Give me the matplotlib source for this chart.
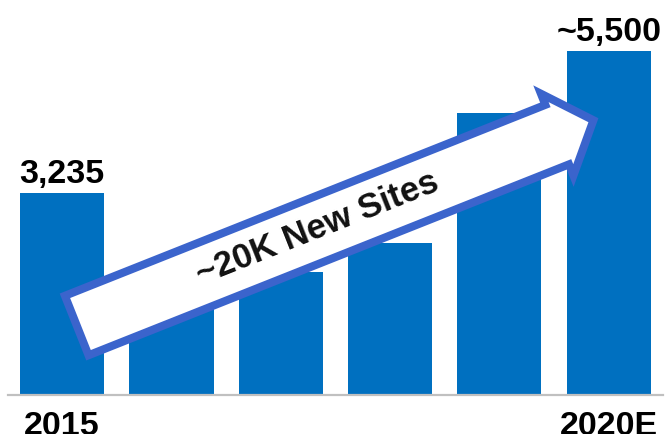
"""Site count growth from 2015 to 2020E, with a callout arrow for new sites."""
import matplotlib.pyplot as plt
import numpy as np
from matplotlib.patches import Polygon

plt.rcParams["font.family"] = ["Liberation Sans", "DejaVu Sans"]

years = ["2015", "2016", "2017", "2018", "2019", "2020E"]
sites = [3235, 1900, 1970, 2430, 4510, 5500]
value_labels = {0: "3,235", 5: "~5,500"}
axis_labels = {0: "2015", 5: "2020E"}
callout = "~20K New Sites"

BAR_BLUE = "#0070C0"
ARROW_BLUE = "#3B64CC"
W, H = 665, 435

fig = plt.figure(figsize=(W / 100, H / 100), dpi=100)
ax = fig.add_axes([7.5 / W, 39 / H, 655.8 / W, 396 / H])

x = np.arange(len(years))
ax.bar(x, sites, width=0.77, color=BAR_BLUE, zorder=2)
ax.set_xlim(-0.5, len(years) - 0.5)
ax.set_ylim(0, 6340)

for side in ("top", "left", "right"):
    ax.spines[side].set_visible(False)
ax.spines["bottom"].set_color("#C0C0C0")
ax.spines["bottom"].set_linewidth(1.6)
ax.set_yticks([])
ax.set_xticks(list(axis_labels), list(axis_labels.values()))
ax.tick_params(axis="x", length=0, pad=11, labelsize=24.5)
for lbl in ax.get_xticklabels():
    lbl.set_fontweight("bold")

for i, txt in value_labels.items():
    ax.annotate(txt, (x[i], sites[i]), xytext=(0, 3), textcoords="offset points",
                ha="center", va="bottom", fontsize=24.5, fontweight="bold")

# callout arrow drawn in pixel space on a transparent overlay
ov = fig.add_axes([0, 0, 1, 1], zorder=5)
ov.set_xlim(0, W)
ov.set_ylim(H, 0)
ov.axis("off")
ov.patch.set_alpha(0)

tail = np.array([73.0, 328.0])
tip = np.array([599.0, 119.0])
u = (tip - tail) / np.linalg.norm(tip - tail)
n = np.array([-u[1], u[0]]) * -1  # normal pointing downward on screen
length = np.linalg.norm(tip - tail)
shaft_hw, head_hw, head_start = 32, 44, 521
outline = [(4, -shaft_hw), (head_start, -shaft_hw), (head_start, -head_hw),
           (length - 6, 0), (head_start, head_hw), (head_start, shaft_hw),
           (4, shaft_hw)]
pts = [tail + s * u + t * n for s, t in outline]
ov.add_patch(Polygon(pts, closed=True, facecolor="white", edgecolor=ARROW_BLUE,
                     linewidth=5.8, joinstyle="miter"))

angle = np.degrees(np.arctan2(-u[1], u[0]))
mid = tail + 264 * u + 2 * n
ov.text(mid[0], mid[1], callout, rotation=angle, rotation_mode="anchor",
        ha="center", va="center", fontsize=25, fontweight="bold", color="#111111")

fig.savefig("out.png", dpi=100)
